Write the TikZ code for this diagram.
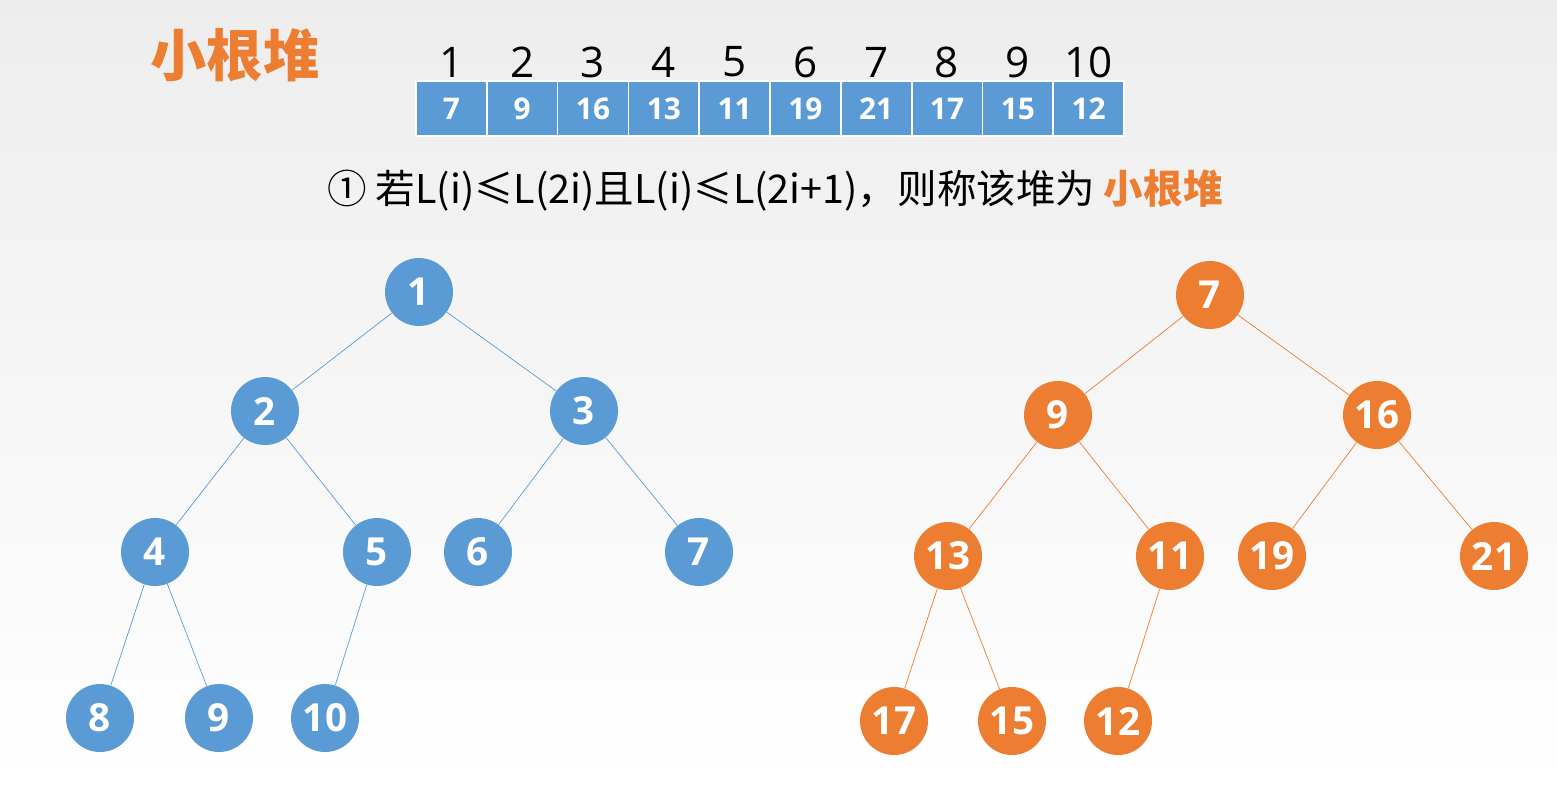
\documentclass[tikz,border=0pt]{standalone}
\usepackage{fontspec}
\setmainfont{Open Sans}
\newfontfamily\cjk{Noto Sans CJK SC}
\definecolor{heapblue}{RGB}{91,155,213}
\definecolor{heaporange}{RGB}{237,125,49}
\tikzset{%
    blue node/.style={circle,fill=heapblue,inner sep=0pt,minimum size=1.36cm,text=white,font=\bfseries\fontsize{22}{24}\selectfont},
    orange node/.style={circle,fill=heaporange,inner sep=0pt,minimum size=1.36cm,text=white,font=\bfseries\fontsize{22}{24}\selectfont},
    blue edge/.style={heapblue,thin},
    orange edge/.style={heaporange,thin},
    cell/.style={fill=heapblue,draw=white,line width=1pt,minimum width=1.416cm,minimum height=1.1cm,inner sep=0pt,text=white,font=\bfseries\fontsize{17}{19}\selectfont},
}
\begin{document}
\begin{tikzpicture}[x=0.02cm,y=-0.02cm]
      \shade[top color=black!7,bottom color=white] (0,0) rectangle (1557,788);
      \useasboundingbox (0,0) rectangle (1557,788);
      \node[text=heaporange,font=\cjk\bfseries\fontsize{32}{34}\selectfont] (title) at (235,55) {小根堆};
      % array
      \foreach \v [count=\i] in {7,9,16,13,11,19,21,17,15,12} {
        \node[cell] (c\i) at ({416+70.8*(\i-0.5)},108.5) {\v};
        \node[font=\fontsize{24}{26}\selectfont] (n\i) at ({416+70.8*(\i-0.5)},62) {\i};
      }
      \node[font=\cjk\fontsize{22.5}{24}\selectfont] (rule) at (775,190) {① 若L(i)≤L(2i)且L(i)≤L(2i+1)，则称该堆为 {\color{heaporange}\bfseries 小根堆}};

      % index tree
      \node[blue node] (b1) at (419,292) {1};
      \node[blue node] (b2) at (265,411) {2};
      \node[blue node] (b3) at (584,411) {3};
      \node[blue node] (b4) at (155,552) {4};
      \node[blue node] (b5) at (377,552) {5};
      \node[blue node] (b6) at (478,552) {6};
      \node[blue node] (b7) at (699,552) {7};
      \node[blue node] (b8) at (100,718) {8};
      \node[blue node] (b9) at (219,718) {9};
      \node[blue node] (b10) at (325,718) {10};
      \draw[blue edge] (b1) -- (b2) (b1) -- (b3) (b2) -- (b4) (b2) -- (b5) (b3) -- (b6) (b3) -- (b7)
        (b4) -- (b8) (b4) -- (b9) (b5) -- (b10);

      % value tree
      \node[orange node] (o1) at (1210,295) {7};
      \node[orange node] (o2) at (1058,415) {9};
      \node[orange node] (o3) at (1377,415) {16};
      \node[orange node] (o4) at (948,556) {13};
      \node[orange node] (o5) at (1170,556) {11};
      \node[orange node] (o6) at (1272,556) {19};
      \node[orange node] (o7) at (1494,556) {21};
      \node[orange node] (o8) at (894,721) {17};
      \node[orange node] (o9) at (1012,721) {15};
      \node[orange node] (o10) at (1118,721) {12};
      \draw[orange edge] (o1) -- (o2) (o1) -- (o3) (o2) -- (o4) (o2) -- (o5) (o3) -- (o6) (o3) -- (o7)
        (o4) -- (o8) (o4) -- (o9) (o5) -- (o10);
\end{tikzpicture}
\end{document}
